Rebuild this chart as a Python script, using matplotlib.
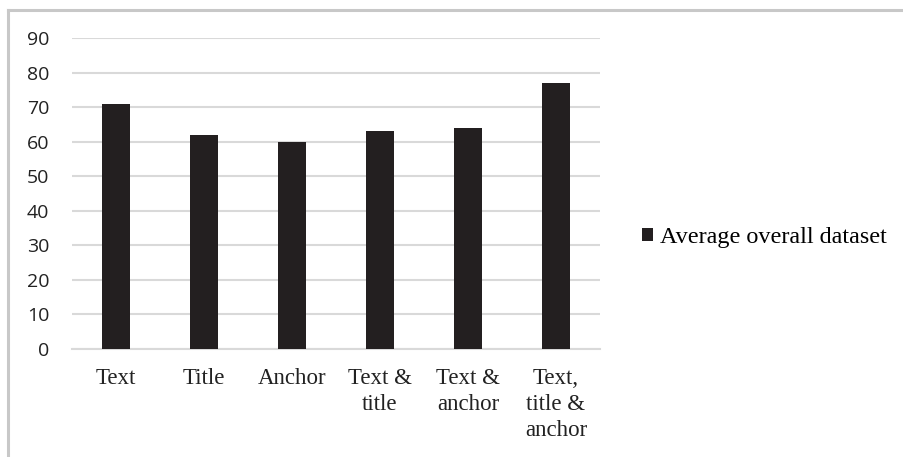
import matplotlib.pyplot as plt
from matplotlib.lines import Line2D
import numpy as np

categories = ["Text", "Title", "Anchor", "Text &\ntitle", "Text &\nanchor", "Text,\ntitle &\nanchor"]
values = [71, 62, 60, 63, 64, 77]
series_label = "Average overall dataset"
y_ticks = [0, 10, 20, 30, 40, 50, 60, 70, 80, 90]

W, H = 904, 457
fig = plt.figure(figsize=(W / 100, H / 100), dpi=100)

# plot area in pixel coordinates
left, right, top, bottom = 72, 600, 38, 349
ax = fig.add_axes([left / W, (H - bottom) / H, (right - left) / W, (bottom - top) / H])

x = np.arange(len(categories))
bars = ax.bar(x, values, width=0.31, color="#231f20", zorder=3, label=series_label)

ax.set_xlim(-0.5, len(categories) - 0.5)
ax.set_ylim(0, 90)
ax.set_yticks(y_ticks)
ax.set_yticklabels([str(t) for t in y_ticks], family="Open Sans", fontsize=14, color="#222222")
ax.set_xticks(x)
ax.set_xticklabels(categories, family="Liberation Serif", fontsize=16.5, color="#222222",
                   linespacing=1.3)
ax.tick_params(axis="both", length=0)
ax.tick_params(axis="x", pad=14)
ax.tick_params(axis="y", pad=16.5)

ax.yaxis.grid(True, color="#d9d9d9", linewidth=1.5, zorder=0)
for s in ["top", "right", "left"]:
    ax.spines[s].set_visible(False)
ax.spines["bottom"].set_color("#d9d9d9")
ax.spines["bottom"].set_linewidth(1.5)

fig.legend(handles=[bars], labels=[series_label], loc="center left",
           bbox_to_anchor=(620 / W, (H - 238) / H), frameon=False,
           prop={"family": "Liberation Serif", "size": 17.4},
           handlelength=0.45, handleheight=0.45, handletextpad=0.3)

# outer frame: only top and left edges are visible
fig.add_artist(Line2D([7.5 / W, 1.0], [1 - 9.5 / H, 1 - 9.5 / H], color="#c8c8c8", linewidth=2.2))
fig.add_artist(Line2D([7.5 / W, 7.5 / W], [0, 1 - 9.5 / H], color="#c8c8c8", linewidth=2.2))

fig.savefig("out.png", dpi=100)
